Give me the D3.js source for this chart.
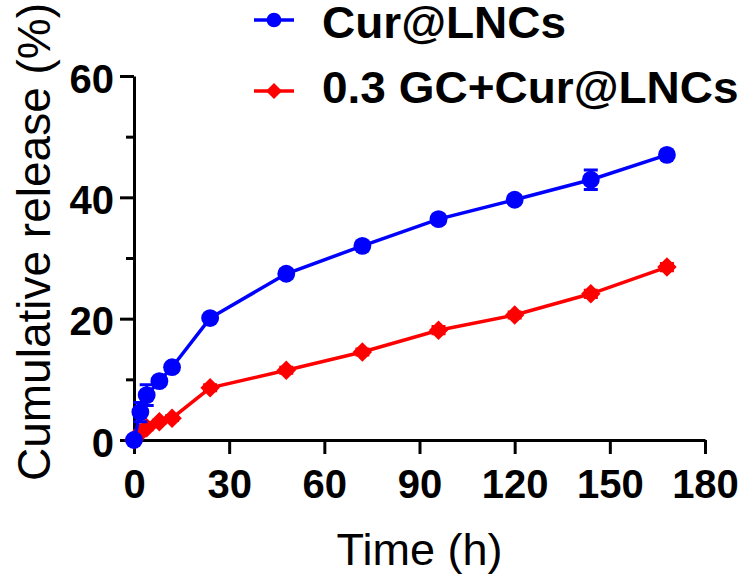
<!DOCTYPE html>
<html>
<head>
<meta charset="utf-8">
<script src="https://cdn.jsdelivr.net/npm/d3@7"></script>
<style>
  body { margin: 0; background: #fff; }
  text { font-family: "Liberation Sans", Arial, sans-serif; }
</style>
</head>
<body>
<div id="chart"></div>
<script>
// chart data
var timesBlue = [0, 2, 4, 8, 12, 24, 48, 72, 96, 120, 144, 168];
var releaseBlue = [0, 4.6, 7.4, 9.7, 12.0, 20.1, 27.4, 32.0, 36.4, 39.6, 42.9, 47.0];
var errBlue = [0, 1.6, 1.7, 0.5, 0.6, 0.6, 0.7, 0.6, 0.7, 0.6, 1.6, 0.6];

var timesRed = [0, 2, 4, 8, 12, 24, 48, 72, 96, 120, 144, 168];
var releaseRed = [0, 1.2, 2.0, 3.0, 3.6, 8.6, 11.5, 14.5, 18.1, 20.6, 24.1, 28.5];
var errRed = [0, 0.3, 0.3, 0.3, 0.4, 0.5, 0.5, 0.5, 0.6, 0.5, 0.6, 0.6];

var xTicks = [0, 30, 60, 90, 120, 150, 180];
var yTicks = [0, 20, 40, 60];
var yMinorTicks = [10, 30, 50];

var seriesNames = ["Cur@LNCs", "0.3 GC+Cur@LNCs"];

var width = 750;
var height = 579;

var svg = d3.select("#chart")
  .append("svg")
  .attr("width", width)
  .attr("height", height);

var x = d3.scaleLinear().domain([0, 180]).range([134, 705]);
var y = d3.scaleLinear().domain([0, 60]).range([440, 76]);

// axes
var xAxis = svg.append("g")
  .attr("transform", "translate(0," + y(0) + ")")
  .call(d3.axisBottom(x).tickValues(xTicks).tickSize(14).tickPadding(16).tickSizeOuter(0));

var yAxis = svg.append("g")
  .attr("transform", "translate(" + x(0) + ",0)")
  .call(d3.axisLeft(y).tickValues(yTicks).tickSize(14).tickPadding(6).tickSizeOuter(0));

svg.append("g")
  .attr("transform", "translate(" + x(0) + ",0)")
  .call(d3.axisLeft(y).tickValues(yMinorTicks).tickSize(8).tickFormat("").tickSizeOuter(0))
  .select(".domain").remove();

svg.selectAll(".domain, .tick line")
  .attr("stroke", "#000")
  .attr("stroke-width", 3);

xAxis.selectAll(".tick text")
  .attr("fill", "#000")
  .style("font-size", "40px")
  .style("font-weight", "bold");

yAxis.selectAll(".tick text")
  .attr("fill", "#000")
  .attr("dy", "0.4em")
  .style("font-size", "40px")
  .style("font-weight", "bold");

// axis titles
svg.append("text")
  .attr("x", (x(0) + x(180)) / 2)
  .attr("y", 565)
  .attr("text-anchor", "middle")
  .style("font-size", "45px")
  .text("Time (h)");

svg.append("text")
  .attr("transform", "translate(50," + 242 + ") rotate(-90)")
  .attr("text-anchor", "middle")
  .style("font-size", "46px")
  .text("Cumulative release (%)");

function toPoints(ts, vs, es) {
  return ts.map(function (t, i) { return { t: t, v: vs[i], e: es[i] }; });
}

var red = toPoints(timesRed, releaseRed, errRed);
var blue = toPoints(timesBlue, releaseBlue, errBlue);

var line = d3.line().x(d => x(d.t)).y(d => y(d.v));

function drawSeries(data, color, shape) {
  var g = svg.append("g");
  // error bars
  g.selectAll("path.err")
    .data(data)
    .enter()
    .append("path")
    .attr("d", d => {
      var cx = x(d.t), y1 = y(d.v + d.e), y2 = y(d.v - d.e);
      return "M" + (cx - 7) + "," + y1 + "H" + (cx + 7) + "M" + cx + "," + y1 + "V" + y2 + "M" + (cx - 7) + "," + y2 + "H" + (cx + 7);
    })
    .attr("stroke", color)
    .attr("stroke-width", 3)
    .attr("fill", "none");

  g.append("path")
    .datum(data)
    .attr("d", line)
    .attr("fill", "none")
    .attr("stroke", color)
    .attr("stroke-width", 3.5);

  g.selectAll("path.mark")
    .data(data)
    .enter()
    .append("path")
    .attr("d", d3.symbol().type(shape).size(shape === d3.symbolCircle ? 250 : 190))
    .attr("transform", d => "translate(" + x(d.t) + "," + y(d.v) + ")" + (shape === d3.symbolSquare ? " rotate(45)" : ""))
    .attr("fill", color);
}

drawSeries(red, "#ff0000", d3.symbolSquare);
drawSeries(blue, "#0000ff", d3.symbolCircle);

// legend
var legendY = [20, 91];
var legendBaseline = [38, 103];
var legendColors = ["#0000ff", "#ff0000"];
var legendShapes = [d3.symbolCircle, d3.symbolSquare];

seriesNames.forEach(function (name, i) {
  var g = svg.append("g").attr("transform", "translate(0," + legendY[i] + ")");
  g.append("line")
    .attr("x1", 254).attr("x2", 294)
    .attr("stroke", legendColors[i])
    .attr("stroke-width", 3.5);
  g.append("path")
    .attr("d", d3.symbol().type(legendShapes[i]).size(i === 0 ? 170 : 130))
    .attr("transform", "translate(274,0)" + (i === 1 ? " rotate(45)" : ""))
    .attr("fill", legendColors[i]);
  svg.append("text")
    .attr("transform", "translate(322," + legendBaseline[i] + ") scale(1.045,1)")
    .style("font-size", "44px")
    .style("font-weight", "bold")
    .text(name);
});
</script>
</body>
</html>
